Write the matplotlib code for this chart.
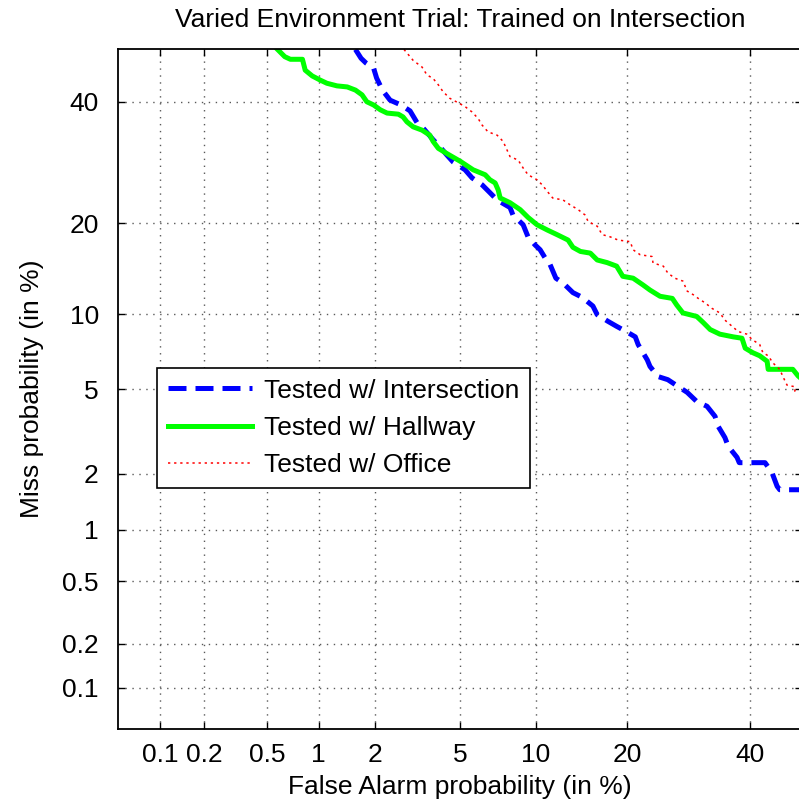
import numpy as np
import matplotlib
matplotlib.use("Agg")
import matplotlib.pyplot as plt
from statistics import NormalDist

plt.rcParams['font.family'] = ['Liberation Sans', 'DejaVu Sans']

# ---------------- data (percent) ----------------
tick_vals = [0.1, 0.2, 0.5, 1, 2, 5, 10, 20, 40]
tick_labels = ['0.1', '0.2', '0.5', '1', '2', '5', '10', '20', '40']

inter_fa = [1.58, 1.69, 1.79, 1.96, 2.03, 2.17, 2.37, 2.68, 2.96, 3.2, 3.44, 3.79, 4.08,
            4.37, 4.65, 5.24, 5.61, 6.18, 6.65, 7.11, 7.99, 8.2, 8.97, 9.36, 9.93, 10.37,
            10.8, 11.25, 11.8, 12.5, 13.5, 14.5, 15.7, 16.2, 17.5, 18.6, 19.85, 21.1, 21.5,
            22.8, 23.2, 24.4, 25.9, 27.5, 29.0, 30.6, 32.35, 33.75, 34.3, 35.5, 36.1, 37.7,
            38.1, 42.9, 44.2, 45.2, 45.7, 50.0]
inter_miss = [50.0, 48.3, 47.4, 46.4, 44.5, 42.2, 40.3, 39.4, 38.3, 36.1, 35.0, 33.1, 31.8,
              30.45, 29.3, 28.0, 26.7, 25.6, 24.4, 23.3, 22.2, 21.15, 19.8, 18.2, 17.2, 16.6,
              15.65, 14.9, 13.4, 12.9, 11.95, 11.5, 10.7, 9.95, 9.4, 9.0, 8.6, 8.2, 7.65,
              6.64, 6.24, 5.66, 5.49, 5.14, 4.84, 4.41, 4.2, 3.78, 3.4, 3.01, 2.73, 2.41,
              2.27, 2.27, 2.03, 1.72, 1.65, 1.65]

hall_fa = [0.58, 0.64, 0.69, 0.81, 0.84, 0.92, 1.02, 1.11, 1.26, 1.43, 1.58, 1.71, 1.81,
           1.96, 2.12, 2.29, 2.60, 2.74, 2.86, 3.06, 3.37, 3.66, 3.79, 4.0, 4.37, 5.0, 5.67,
           6.36, 6.65, 6.98, 7.18, 7.31, 7.99, 8.74, 9.36, 10.1, 11.0, 11.9, 13.0, 13.5,
           14.3, 15.4, 16.2, 17.4, 18.6, 19.4, 20.8, 22.2, 23.2, 24.7, 26.6, 27.3, 28.3,
           30.6, 31.7, 32.9, 34.6, 37.0, 38.6, 39.2, 40.6, 41.9, 43.3, 43.5, 48.2, 49.2, 50.0]
hall_miss = [50.0, 48.6, 48.1, 48.1, 46.0, 44.9, 44.1, 43.5, 43.0, 42.8, 42.2, 41.3, 40.0,
             39.4, 38.5, 37.9, 37.7, 37.2, 36.3, 35.4, 34.8, 33.9, 32.8, 31.6, 30.7, 29.4,
             28.0, 27.2, 26.4, 25.9, 24.8, 23.6, 22.9, 21.9, 20.8, 19.8, 19.1, 18.5, 17.8,
             16.9, 16.4, 16.2, 15.4, 15.1, 14.7, 13.6, 13.4, 12.7, 12.2, 11.6, 11.4, 10.8,
             10.1, 9.8, 9.3, 8.75, 8.4, 8.2, 8.1, 7.4, 7.1, 6.9, 6.55, 6.07, 6.07, 5.7, 5.5]

office_fa = [2.77, 3.06, 3.37, 3.55, 3.79, 4.0, 4.2, 4.5, 4.85, 5.24, 5.61, 5.95, 6.18, 6.53,
             7.11, 7.51, 7.99, 8.59, 8.97, 9.36, 10.1, 10.55, 11.0, 11.5, 12.5, 13.2, 14.05,
             14.8, 15.15, 16.2, 16.8, 17.8, 18.8, 20.4, 20.8, 21.8, 23.5, 23.65, 25.2, 25.9,
             27.0, 28.3, 29.0, 30.0, 31.1, 32.0, 33.2, 34.6, 35.5, 36.8, 37.9, 39.5, 40.5,
             41.9, 42.5, 43.5, 44.4, 45.7, 46.3, 47.1, 48.6, 48.6, 50.0]
office_miss = [50.0, 47.9, 46.6, 45.1, 44.4, 43.2, 41.9, 40.65, 39.9, 39.1, 38.1, 36.9, 35.7,
               34.5, 33.9, 32.8, 30.2, 29.6, 28.3, 27.2, 26.4, 25.6, 24.6, 23.6, 23.3, 22.6,
               21.9, 21.15, 20.25, 19.6, 18.5, 18.2, 17.8, 17.6, 16.6, 16.0, 15.8, 15.06,
               14.7, 13.95, 13.4, 13.1, 12.1, 11.75, 11.3, 11.0, 10.5, 10.1, 9.5, 9.0, 8.6,
               8.4, 8.0, 7.65, 7.1, 6.9, 6.45, 6.07, 5.66, 5.2, 5.12, 4.9, 4.85]

# ---------------- normal-deviate (DET) scale ----------------
_nd = NormalDist()
_ppf = np.vectorize(_nd.inv_cdf, otypes=[float])
_cdf = np.vectorize(_nd.cdf, otypes=[float])


def fwd(p):
    p = np.clip(np.asarray(p, dtype=float) / 100.0, 1e-9, 1 - 1e-9)
    return _ppf(p)


def inv(z):
    return _cdf(np.asarray(z, dtype=float)) * 100.0


FS = 19

fig = plt.figure(figsize=(7.99, 8.08), dpi=100)
ax = fig.add_axes([0.148, 0.0978, 0.856, 0.841])
ax.set_xscale('function', functions=(fwd, inv))
ax.set_yscale('function', functions=(fwd, inv))

ax.plot(inter_fa, inter_miss, color=(0, 0, 1), lw=3.6, ls='--', dashes=(3.6, 1.8),
        label='Tested w/ Intersection')
ax.plot(hall_fa, hall_miss, color=(0, 1, 0), lw=3.6, ls='-', label='Tested w/ Hallway')
ax.plot(office_fa, office_miss, color=(1, 0, 0), lw=1.1, ls=(0, (1.5, 2.5)),
        label='Tested w/ Office')

ax.set_xlim(0.05, 50)
ax.set_ylim(0.05, 50)
ax.set_xticks(tick_vals)
ax.set_xticklabels(tick_labels)
ax.set_yticks(tick_vals)
ax.set_yticklabels(tick_labels)
ax.xaxis.set_minor_locator(matplotlib.ticker.NullLocator())
ax.yaxis.set_minor_locator(matplotlib.ticker.NullLocator())

ax.tick_params(axis='both', which='major', direction='in', length=5, width=1,
               top=True, right=True, labelsize=FS)
ax.tick_params(axis='x', pad=10)
ax.tick_params(axis='y', pad=14)
ax.grid(True, ls=(0, (1, 4)), color='0.35', lw=1.0)
for s in ax.spines.values():
    s.set_linewidth(1.3)

ax.set_title('Varied Environment Trial: Trained on Intersection', fontsize=FS, pad=16)
ax.set_xlabel('False Alarm probability (in %)', fontsize=FS, labelpad=6)
ax.set_ylabel('Miss probability (in %)', fontsize=FS, labelpad=13)

leg = ax.legend(loc='upper left', bbox_to_anchor=(0.0566, 0.531), fontsize=FS,
                frameon=True, fancybox=False, shadow=False, borderaxespad=0,
                framealpha=1, handlelength=3.2, handletextpad=0.45, labelspacing=0.5,
                borderpad=0.4)
leg.get_frame().set_edgecolor('black')
leg.get_frame().set_linewidth(1.2)

fig.savefig('out.png', dpi=100)
